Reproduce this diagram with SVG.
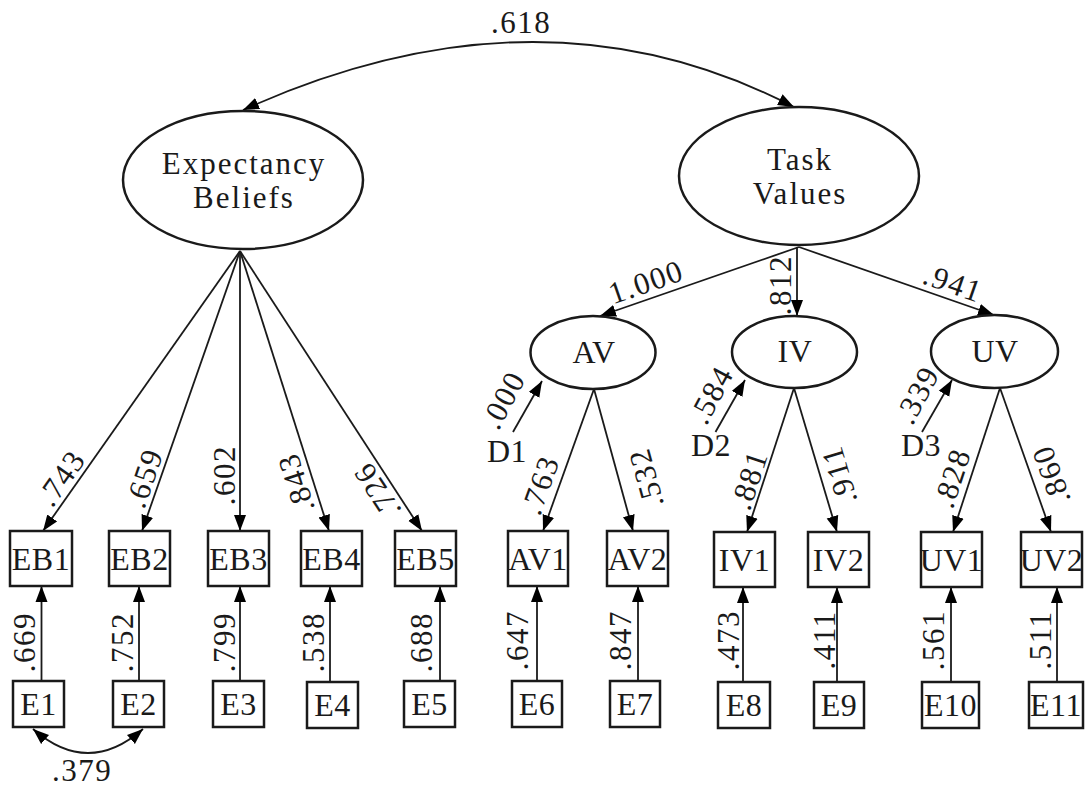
<svg xmlns="http://www.w3.org/2000/svg" width="1085" height="786" viewBox="0 0 1085 786">
<defs>
<marker id="ah" markerUnits="userSpaceOnUse" markerWidth="18" markerHeight="14" refX="16" refY="6.5" orient="auto-start-reverse">
<path d="M0,0.5 L16,6.5 L0,12.5 z" fill="#000"/>
</marker>
</defs>
<style>
text{font-family:"Liberation Serif","Times New Roman",serif;fill:#1a1a1a}
.lat{font-size:31px;letter-spacing:2px;text-anchor:middle}
.box{font-size:32px;letter-spacing:0.5px;text-anchor:middle}
.num{font-size:31px;letter-spacing:1.5px;text-anchor:middle;dominant-baseline:central}
.numb{font-size:31px;letter-spacing:1.5px;text-anchor:middle}
rect{fill:#fff;stroke:#1a1a1a;stroke-width:2.5}
ellipse{fill:#fff;stroke:#1a1a1a;stroke-width:2.5}
.c path,.c line{fill:none;stroke:#1a1a1a;stroke-width:1.8}
</style>
<rect x="0" y="0" width="1085" height="786" style="fill:#fff;stroke:none"/>

<g id="connectors" class="c">
<path d="M243,110 Q541,-24.5 794,107" marker-start="url(#ah)" marker-end="url(#ah)"/>
<line x1="240" y1="251" x2="43" y2="531" marker-end="url(#ah)"/>
<line x1="240" y1="251" x2="142" y2="531" marker-end="url(#ah)"/>
<line x1="240" y1="251" x2="240" y2="531" marker-end="url(#ah)"/>
<line x1="240" y1="251" x2="329" y2="531" marker-end="url(#ah)"/>
<line x1="240" y1="251" x2="422" y2="531" marker-end="url(#ah)"/>
<line x1="799" y1="247" x2="600" y2="316" marker-end="url(#ah)"/>
<line x1="797" y1="247" x2="797" y2="316" marker-end="url(#ah)"/>
<line x1="799" y1="247" x2="994" y2="315" marker-end="url(#ah)"/>
<line x1="594" y1="389" x2="543" y2="531" marker-end="url(#ah)"/>
<line x1="594" y1="389" x2="633" y2="531" marker-end="url(#ah)"/>
<line x1="794" y1="388" x2="747" y2="532" marker-end="url(#ah)"/>
<line x1="794" y1="388" x2="837" y2="532" marker-end="url(#ah)"/>
<line x1="1000" y1="388" x2="953" y2="532" marker-end="url(#ah)"/>
<line x1="1000" y1="388" x2="1051" y2="532" marker-end="url(#ah)"/>
<line x1="513" y1="432" x2="542" y2="381" marker-end="url(#ah)"/>
<line x1="715.5" y1="432" x2="745" y2="380" marker-end="url(#ah)"/>
<line x1="922" y1="432" x2="952" y2="380" marker-end="url(#ah)"/>
<line x1="41.5" y1="681" x2="41.5" y2="586" marker-end="url(#ah)"/>
<line x1="139" y1="681" x2="139" y2="586" marker-end="url(#ah)"/>
<line x1="240" y1="681" x2="240" y2="586" marker-end="url(#ah)"/>
<line x1="330" y1="682" x2="330" y2="586" marker-end="url(#ah)"/>
<line x1="440" y1="681" x2="440" y2="586" marker-end="url(#ah)"/>
<line x1="537" y1="681" x2="537" y2="586" marker-end="url(#ah)"/>
<line x1="638" y1="681" x2="638" y2="586" marker-end="url(#ah)"/>
<line x1="743" y1="682" x2="743" y2="587" marker-end="url(#ah)"/>
<line x1="837" y1="682" x2="837" y2="587" marker-end="url(#ah)"/>
<line x1="951" y1="682" x2="951" y2="587" marker-end="url(#ah)"/>
<line x1="1057" y1="682" x2="1057" y2="587" marker-end="url(#ah)"/>
<path d="M33,729 Q88,777 143,729" marker-start="url(#ah)" marker-end="url(#ah)"/>
</g>

<g id="labels">
<text class="numb" x="521" y="33">.618</text>
<text class="num" transform="translate(61,478) rotate(-55)">.743</text>
<text class="num" transform="translate(144,478) rotate(-71)">.659</text>
<text class="num" transform="translate(224,475) rotate(-90)">.602</text>
<text class="num" transform="translate(296,483) rotate(-107.6)">.843</text>
<text class="num" transform="translate(377,491) rotate(-123)">.726</text>
<text class="num" transform="translate(646,282) rotate(-19.1)">1.000</text>
<text class="num" transform="translate(780,285) rotate(-90)">.812</text>
<text class="num" transform="translate(953,283) rotate(19.2)">.941</text>
<text class="num" transform="translate(540,485) rotate(-70.2)">.763</text>
<text class="num" transform="translate(646,478) rotate(-105.4)">.532</text>
<text class="num" transform="translate(749,480) rotate(-71.7)">.881</text>
<text class="num" transform="translate(839,475) rotate(-106.8)">.911</text>
<text class="num" transform="translate(952,478) rotate(-71.7)">.828</text>
<text class="num" transform="translate(1051,475) rotate(-109.8)">.860</text>
<text class="num" transform="translate(503,400) rotate(-62)">.000</text>
<text class="num" transform="translate(711,395) rotate(-62)">.584</text>
<text class="num" transform="translate(917,395) rotate(-62)">.339</text>
<text class="num" transform="translate(24.5,642) rotate(-90)">.669</text>
<text class="num" transform="translate(122.5,642) rotate(-90)">.752</text>
<text class="num" transform="translate(224,642) rotate(-90)">.799</text>
<text class="num" transform="translate(313.5,642) rotate(-90)">.538</text>
<text class="num" transform="translate(421,642) rotate(-90)">.688</text>
<text class="num" transform="translate(517,640) rotate(-90)">.647</text>
<text class="num" transform="translate(620,640) rotate(-90)">.847</text>
<text class="num" transform="translate(728,640) rotate(-90)">.473</text>
<text class="num" transform="translate(824,640) rotate(-90)">.411</text>
<text class="num" transform="translate(933,640) rotate(-90)">.561</text>
<text class="num" transform="translate(1040,640) rotate(-90)">.511</text>
<text class="numb" x="82" y="781">.379</text>
</g>

<g id="ExpectancyBeliefs"><ellipse cx="243" cy="180" rx="120" ry="69"/><text class="lat" x="244" y="174">Expectancy</text><text class="lat" x="244" y="208">Beliefs</text></g>
<g id="TaskValues"><ellipse cx="799" cy="176" rx="120" ry="69"/><text class="lat" x="800" y="170">Task</text><text class="lat" x="800" y="204">Values</text></g>
<g id="AV"><ellipse cx="593" cy="352.5" rx="62.5" ry="36.5"/><text class="box" x="594" y="363">AV</text></g>
<g id="IV"><ellipse cx="794.5" cy="352" rx="62.5" ry="36"/><text class="box" x="795" y="362">IV</text></g>
<g id="UV"><ellipse cx="994.5" cy="351.5" rx="63.5" ry="36.5"/><text class="box" x="995" y="362">UV</text></g>
<g id="D1"><text class="box" x="507" y="462">D1</text></g>
<g id="D2"><text class="box" x="711" y="456">D2</text></g>
<g id="D3"><text class="box" x="921" y="456">D3</text></g>

<g id="EB1"><rect x="10" y="531" width="62" height="55"/><text class="box" x="41" y="570">EB1</text></g>
<g id="EB2"><rect x="109" y="531" width="61" height="55"/><text class="box" x="139.5" y="570">EB2</text></g>
<g id="EB3"><rect x="208" y="531" width="61" height="55"/><text class="box" x="238.5" y="570">EB3</text></g>
<g id="EB4"><rect x="301" y="531" width="61" height="55"/><text class="box" x="331.5" y="570">EB4</text></g>
<g id="EB5"><rect x="395" y="531" width="61" height="55"/><text class="box" x="425.5" y="570">EB5</text></g>
<g id="AV1"><rect x="508" y="531" width="60" height="55"/><text class="box" x="538" y="570">AV1</text></g>
<g id="AV2"><rect x="607" y="531" width="61" height="55"/><text class="box" x="637.5" y="570">AV2</text></g>
<g id="IV1"><rect x="714" y="532" width="61" height="55"/><text class="box" x="744.5" y="571">IV1</text></g>
<g id="IV2"><rect x="808" y="532" width="61" height="55"/><text class="box" x="838.5" y="571">IV2</text></g>
<g id="UV1"><rect x="921" y="532" width="61" height="55"/><text class="box" x="951.5" y="571">UV1</text></g>
<g id="UV2"><rect x="1021" y="532" width="61" height="55"/><text class="box" x="1051.5" y="571">UV2</text></g>

<g id="E1"><rect x="13" y="681" width="51" height="46"/><text class="box" x="38.5" y="715">E1</text></g>
<g id="E2"><rect x="113" y="681" width="51" height="46"/><text class="box" x="138.5" y="715">E2</text></g>
<g id="E3"><rect x="213" y="681" width="51" height="46"/><text class="box" x="238.5" y="715">E3</text></g>
<g id="E4"><rect x="307" y="682" width="51" height="46"/><text class="box" x="332.5" y="716">E4</text></g>
<g id="E5"><rect x="404" y="681" width="51" height="46"/><text class="box" x="429.5" y="715">E5</text></g>
<g id="E6"><rect x="512" y="681" width="50" height="46"/><text class="box" x="537" y="715">E6</text></g>
<g id="E7"><rect x="610" y="681" width="50" height="46"/><text class="box" x="635" y="715">E7</text></g>
<g id="E8"><rect x="718" y="682" width="52" height="46"/><text class="box" x="744" y="716">E8</text></g>
<g id="E9"><rect x="814" y="682" width="50" height="46"/><text class="box" x="839" y="716">E9</text></g>
<g id="E10"><rect x="922" y="682" width="57" height="46"/><text class="box" x="950.5" y="716">E10</text></g>
<g id="E11"><rect x="1029" y="682" width="54" height="46"/><text class="box" x="1056" y="716">E11</text></g>
</svg>
